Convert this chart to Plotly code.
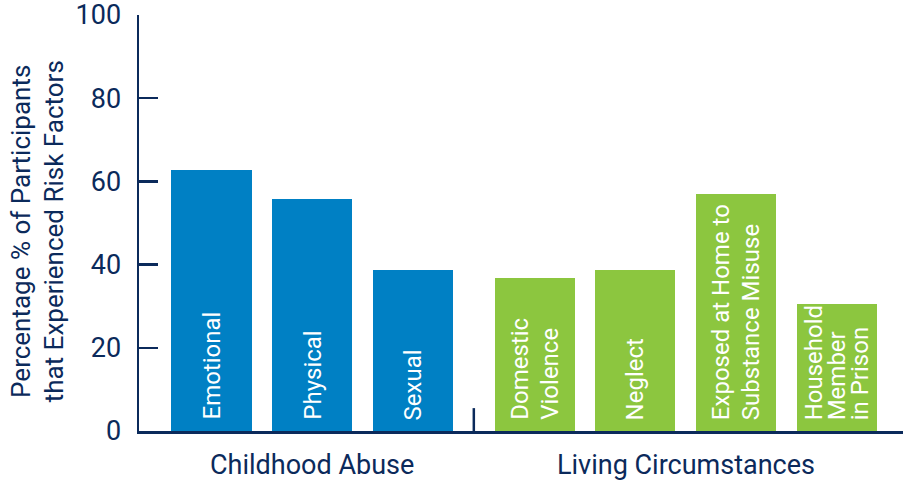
import plotly.graph_objects as go

# ---- data ----
groups = ["Childhood Abuse", "Living Circumstances"]
abuse_labels = ["Emotional", "Physical", "Sexual"]
abuse_values = [62.7, 55.7, 38.6]
living_labels = ["Domestic<br>Violence", "Neglect", "Exposed at Home to<br>Substance Misuse",
                 "Household<br>Member<br>in Prison"]
living_values = [36.7, 38.6, 56.9, 30.5]
y_ticks = [0, 20, 40, 60, 80, 100]

NAVY = "#0b2a5b"
BLUE = "#0080c4"
GREEN = "#8cc63f"
FONT = "Roboto"
GAP = 0.21  # extra space between the two groups (in bar slots)

abuse_x = [i for i in range(len(abuse_labels))]
living_x = [len(abuse_labels) + GAP + i for i in range(len(living_labels))]

fig = go.Figure()
common = dict(width=0.795, hoverinfo="skip", showlegend=False)
fig.add_trace(go.Bar(x=abuse_x, y=abuse_values,
                     marker=dict(color=BLUE, line=dict(width=0)), **common))
fig.add_trace(go.Bar(x=living_x, y=living_values,
                     marker=dict(color=GREEN, line=dict(width=0)), **common))

# labels inside bars (rotated, one annotation per line so line spacing can be controlled)
for xs, labels in [(abuse_x, abuse_labels), (living_x, living_labels)]:
    for x, lab in zip(xs, labels):
        lines = lab.split("<br>")
        n = len(lines)
        spacing = 30 if n <= 2 else 23
        for i, line in enumerate(lines):
            fig.add_annotation(x=x, xref="x", y=0, yref="y", yanchor="bottom", xanchor="center",
                               yshift=9, xshift=(i - (n - 1) / 2) * spacing,
                               text=line, textangle=-90, showarrow=False,
                               font=dict(size=24, color="white", family=FONT))

# separator between the groups
sep_x = (abuse_x[-1] + living_x[0]) / 2
fig.add_shape(type="line", xref="x", yref="paper", x0=sep_x, x1=sep_x, y0=0, y1=0.055,
              line=dict(color=NAVY, width=2.5))

# group labels
for name, xs in zip(groups, [abuse_x, living_x]):
    fig.add_annotation(x=sum(xs) / len(xs), xref="x", y=0, yref="paper", yanchor="top",
                       yshift=-16, text=name, showarrow=False,
                       font=dict(size=27, color=NAVY, family=FONT))

# y axis title
fig.add_annotation(x=-101 / 764, xref="paper", y=0.48, yref="paper",
                   text="Percentage % of Participants<br>that Experienced Risk Factors",
                   textangle=-90, showarrow=False, xanchor="center", yanchor="middle",
                   font=dict(size=26, color=NAVY, family=FONT))

fig.update_layout(
    width=903, height=480,
    margin=dict(l=139, r=0, t=15, b=49, autoexpand=False),
    paper_bgcolor="white", plot_bgcolor="white",
    bargap=0,
    xaxis=dict(range=[-0.72, 6.867], showticklabels=False, ticks="", showgrid=False,
               zeroline=False, showline=True, linecolor=NAVY, linewidth=2.5, automargin=False),
    yaxis=dict(range=[0, 100], tickvals=y_ticks, ticks="inside", ticklen=19, tickwidth=2.5,
               tickcolor=NAVY, showgrid=False, zeroline=False, showline=True,
               linecolor=NAVY, linewidth=2.5, ticklabelstandoff=10, automargin=False,
               ticklabeloverflow="allow",
               tickfont=dict(size=27, color=NAVY, family=FONT)),
)

fig.write_html("out.html", config={"displayModeBar": False, "staticPlot": True},
               post_script="document.body.style.margin='0';document.body.style.overflow='hidden';")
